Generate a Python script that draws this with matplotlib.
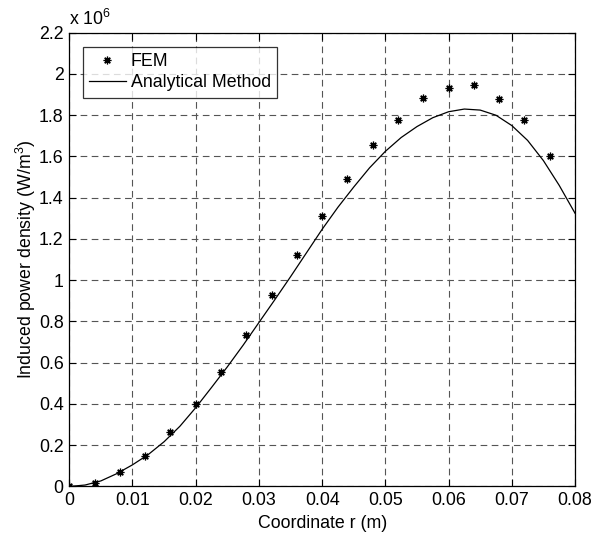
import matplotlib
matplotlib.use("Agg")
import matplotlib.pyplot as plt
from matplotlib.ticker import FuncFormatter

plt.rcParams['font.family'] = ['Liberation Sans', 'DejaVu Sans']
plt.rcParams['mathtext.fontset'] = 'custom'
plt.rcParams['mathtext.rm'] = 'Liberation Sans'

# FEM results (values in units of 10^6 W/m^3)
fem_r = [0.000, 0.004, 0.008, 0.012, 0.016, 0.020, 0.024, 0.028, 0.032, 0.036,
         0.040, 0.044, 0.048, 0.052, 0.056, 0.060, 0.064, 0.068, 0.072, 0.076]
fem_p = [0.000, 0.019, 0.069, 0.150, 0.265, 0.402, 0.557, 0.735, 0.928, 1.124,
         1.310, 1.490, 1.656, 1.778, 1.884, 1.932, 1.946, 1.879, 1.776, 1.602]

# Analytical method (values in units of 10^6 W/m^3)
ana_r = [0.0000, 0.0025, 0.0050, 0.0075, 0.0100, 0.0125, 0.0150, 0.0175, 0.0200,
         0.0225, 0.0250, 0.0275, 0.0300, 0.0325, 0.0350, 0.0375, 0.0400, 0.0425,
         0.0450, 0.0475, 0.0500, 0.0525, 0.0550, 0.0575, 0.0600, 0.0625, 0.0650,
         0.0675, 0.0700, 0.0725, 0.0750, 0.0775, 0.0800]
ana_p = [0.000, 0.007, 0.027, 0.062, 0.105, 0.155, 0.217, 0.292, 0.382,
         0.480, 0.580, 0.685, 0.795, 0.905, 1.017, 1.132, 1.247, 1.354,
         1.452, 1.545, 1.625, 1.692, 1.745, 1.788, 1.817, 1.830, 1.825,
         1.800, 1.750, 1.678, 1.580, 1.460, 1.325]

x_ticks = [0, 0.01, 0.02, 0.03, 0.04, 0.05, 0.06, 0.07, 0.08]
y_ticks = [0, 0.2, 0.4, 0.6, 0.8, 1.0, 1.2, 1.4, 1.6, 1.8, 2.0, 2.2]

FS = 12.8

fig = plt.figure(figsize=(6.04, 5.35), dpi=100)
ax = fig.add_axes([0.1147, 0.0907, 0.8373, 0.8481])

ax.plot(fem_r, fem_p, linestyle='none', marker=(8, 2, 0), markersize=5.5,
        markeredgewidth=0.9, color='black', label='FEM', zorder=3)
ax.plot(ana_r, ana_p, '-', color='black', linewidth=0.9,
        label='Analytical Method', zorder=3)

ax.set_xlim(0, 0.08)
ax.set_ylim(0, 2.2)
ax.set_xticks(x_ticks)
ax.set_yticks(y_ticks)
fmt = FuncFormatter(lambda v, p: ('%g' % round(v, 4)))
ax.xaxis.set_major_formatter(fmt)
ax.yaxis.set_major_formatter(fmt)

ax.tick_params(direction='in', top=True, right=True, length=5, width=0.8,
               labelsize=FS, pad=4, colors='black')
for s in ax.spines.values():
    s.set_linewidth(0.9)
    s.set_color('black')

ax.grid(True, color='#555555', linewidth=0.8, linestyle=(0, (6, 4)))
ax.set_axisbelow(True)

ax.set_xlabel('Coordinate r (m)', fontsize=FS, labelpad=4)
ax.set_ylabel('Induced power density (W/m$^3$)', fontsize=FS, labelpad=1)

ax.text(0.0, 1.008, r'x 10$^{6}$', transform=ax.transAxes, fontsize=FS,
        ha='left', va='bottom')

leg = ax.legend(loc='upper left', bbox_to_anchor=(0.027, 0.969), fontsize=FS,
                frameon=True, fancybox=False, edgecolor='black',
                handlelength=2.05, handletextpad=0.3, borderpad=0.35,
                labelspacing=0.25, borderaxespad=0.0)
leg.get_frame().set_linewidth(0.9)

fig.savefig('out.png', dpi=100)
